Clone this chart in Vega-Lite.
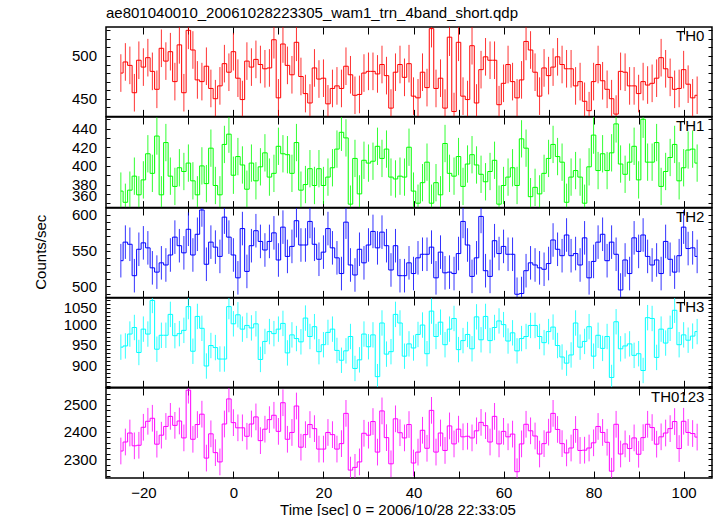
{
"$schema":"https://vega.github.io/schema/vega-lite/v6.json",
"autosize":"none",
"padding":{"left":106,"top":27,"right":611,"bottom":489},
"title":{"text":"ae801040010_20061028223305_wam1_trn_4band_short.qdp","anchor":"start","frame":"group","baseline":"bottom","offset":-10},
"data":{"values":[
{"p":"TH0","t":-25,"c":480,"e":22},{"p":"TH0","t":-24,"c":493,"e":22},{"p":"TH0","t":-23,"c":489,"e":22},{"p":"TH0","t":-22,"c":457,"e":22},{"p":"TH0","t":-21,"c":495,"e":22},{"p":"TH0","t":-20,"c":487,"e":22},{"p":"TH0","t":-19,"c":498,"e":22},{"p":"TH0","t":-18,"c":482,"e":22},{"p":"TH0","t":-17,"c":461,"e":22},{"p":"TH0","t":-16,"c":509,"e":22},{"p":"TH0","t":-15,"c":494,"e":22},{"p":"TH0","t":-14,"c":505,"e":22},{"p":"TH0","t":-13,"c":470,"e":22},{"p":"TH0","t":-12,"c":513,"e":22},{"p":"TH0","t":-11,"c":457,"e":22},{"p":"TH0","t":-10,"c":530,"e":22},{"p":"TH0","t":-9,"c":507,"e":22},{"p":"TH0","t":-8,"c":472,"e":22},{"p":"TH0","t":-7,"c":470,"e":22},{"p":"TH0","t":-6,"c":488,"e":22},{"p":"TH0","t":-5,"c":462,"e":22},{"p":"TH0","t":-4,"c":450,"e":22},{"p":"TH0","t":-3,"c":465,"e":22},{"p":"TH0","t":-2,"c":491,"e":22},{"p":"TH0","t":-1,"c":481,"e":22},{"p":"TH0","t":0,"c":505,"e":22},{"p":"TH0","t":1,"c":474,"e":22},{"p":"TH0","t":2,"c":449,"e":22},{"p":"TH0","t":3,"c":494,"e":22},{"p":"TH0","t":4,"c":487,"e":22},{"p":"TH0","t":5,"c":496,"e":22},{"p":"TH0","t":6,"c":490,"e":22},{"p":"TH0","t":7,"c":485,"e":22},{"p":"TH0","t":8,"c":486,"e":22},{"p":"TH0","t":9,"c":519,"e":22},{"p":"TH0","t":10,"c":451,"e":22},{"p":"TH0","t":11,"c":514,"e":22},{"p":"TH0","t":12,"c":489,"e":22},{"p":"TH0","t":13,"c":478,"e":22},{"p":"TH0","t":14,"c":516,"e":22},{"p":"TH0","t":15,"c":476,"e":22},{"p":"TH0","t":16,"c":456,"e":22},{"p":"TH0","t":17,"c":445,"e":22},{"p":"TH0","t":18,"c":486,"e":22},{"p":"TH0","t":19,"c":473,"e":22},{"p":"TH0","t":20,"c":474,"e":22},{"p":"TH0","t":21,"c":444,"e":22},{"p":"TH0","t":22,"c":462,"e":22},{"p":"TH0","t":23,"c":465,"e":22},{"p":"TH0","t":24,"c":462,"e":22},{"p":"TH0","t":25,"c":488,"e":22},{"p":"TH0","t":26,"c":478,"e":22},{"p":"TH0","t":27,"c":454,"e":22},{"p":"TH0","t":28,"c":455,"e":22},{"p":"TH0","t":29,"c":480,"e":22},{"p":"TH0","t":30,"c":482,"e":22},{"p":"TH0","t":31,"c":482,"e":22},{"p":"TH0","t":32,"c":479,"e":22},{"p":"TH0","t":33,"c":490,"e":22},{"p":"TH0","t":34,"c":477,"e":22},{"p":"TH0","t":35,"c":439,"e":22},{"p":"TH0","t":36,"c":481,"e":22},{"p":"TH0","t":37,"c":490,"e":22},{"p":"TH0","t":38,"c":475,"e":22},{"p":"TH0","t":39,"c":491,"e":22},{"p":"TH0","t":40,"c":453,"e":22},{"p":"TH0","t":41,"c":451,"e":22},{"p":"TH0","t":42,"c":481,"e":22},{"p":"TH0","t":43,"c":463,"e":22},{"p":"TH0","t":44,"c":532,"e":22},{"p":"TH0","t":45,"c":462,"e":22},{"p":"TH0","t":46,"c":474,"e":22},{"p":"TH0","t":47,"c":439,"e":22},{"p":"TH0","t":48,"c":522,"e":22},{"p":"TH0","t":49,"c":435,"e":22},{"p":"TH0","t":50,"c":516,"e":22},{"p":"TH0","t":51,"c":453,"e":22},{"p":"TH0","t":52,"c":449,"e":22},{"p":"TH0","t":53,"c":512,"e":22},{"p":"TH0","t":54,"c":445,"e":22},{"p":"TH0","t":55,"c":484,"e":22},{"p":"TH0","t":56,"c":499,"e":22},{"p":"TH0","t":57,"c":495,"e":22},{"p":"TH0","t":58,"c":495,"e":22},{"p":"TH0","t":59,"c":443,"e":22},{"p":"TH0","t":60,"c":468,"e":22},{"p":"TH0","t":61,"c":490,"e":22},{"p":"TH0","t":62,"c":470,"e":22},{"p":"TH0","t":63,"c":451,"e":22},{"p":"TH0","t":64,"c":472,"e":22},{"p":"TH0","t":65,"c":517,"e":22},{"p":"TH0","t":66,"c":507,"e":22},{"p":"TH0","t":67,"c":481,"e":22},{"p":"TH0","t":68,"c":453,"e":22},{"p":"TH0","t":69,"c":486,"e":22},{"p":"TH0","t":70,"c":477,"e":22},{"p":"TH0","t":71,"c":487,"e":22},{"p":"TH0","t":72,"c":499,"e":22},{"p":"TH0","t":73,"c":490,"e":22},{"p":"TH0","t":74,"c":485,"e":22},{"p":"TH0","t":75,"c":485,"e":22},{"p":"TH0","t":76,"c":465,"e":22},{"p":"TH0","t":77,"c":470,"e":22},{"p":"TH0","t":78,"c":447,"e":22},{"p":"TH0","t":79,"c":436,"e":22},{"p":"TH0","t":80,"c":470,"e":22},{"p":"TH0","t":81,"c":490,"e":22},{"p":"TH0","t":82,"c":471,"e":22},{"p":"TH0","t":83,"c":461,"e":22},{"p":"TH0","t":84,"c":450,"e":22},{"p":"TH0","t":85,"c":432,"e":22},{"p":"TH0","t":86,"c":482,"e":22},{"p":"TH0","t":87,"c":481,"e":22},{"p":"TH0","t":88,"c":465,"e":22},{"p":"TH0","t":89,"c":465,"e":22},{"p":"TH0","t":90,"c":456,"e":22},{"p":"TH0","t":91,"c":470,"e":22},{"p":"TH0","t":92,"c":466,"e":22},{"p":"TH0","t":93,"c":468,"e":22},{"p":"TH0","t":94,"c":474,"e":22},{"p":"TH0","t":95,"c":498,"e":22},{"p":"TH0","t":96,"c":485,"e":22},{"p":"TH0","t":97,"c":475,"e":22},{"p":"TH0","t":98,"c":461,"e":22},{"p":"TH0","t":99,"c":462,"e":22},{"p":"TH0","t":100,"c":484,"e":22},{"p":"TH0","t":101,"c":467,"e":22},{"p":"TH0","t":102,"c":451,"e":22},{"p":"TH0","t":103,"c":454,"e":22},
{"p":"TH1","t":-25,"c":373,"e":20},{"p":"TH1","t":-24,"c":361,"e":20},{"p":"TH1","t":-23,"c":374,"e":20},{"p":"TH1","t":-22,"c":389,"e":20},{"p":"TH1","t":-21,"c":369,"e":20},{"p":"TH1","t":-20,"c":385,"e":20},{"p":"TH1","t":-19,"c":413,"e":20},{"p":"TH1","t":-18,"c":392,"e":20},{"p":"TH1","t":-17,"c":432,"e":20},{"p":"TH1","t":-16,"c":369,"e":20},{"p":"TH1","t":-15,"c":425,"e":20},{"p":"TH1","t":-14,"c":389,"e":20},{"p":"TH1","t":-13,"c":378,"e":20},{"p":"TH1","t":-12,"c":398,"e":20},{"p":"TH1","t":-11,"c":394,"e":20},{"p":"TH1","t":-10,"c":403,"e":20},{"p":"TH1","t":-9,"c":384,"e":20},{"p":"TH1","t":-8,"c":369,"e":20},{"p":"TH1","t":-7,"c":400,"e":20},{"p":"TH1","t":-6,"c":381,"e":20},{"p":"TH1","t":-5,"c":419,"e":20},{"p":"TH1","t":-4,"c":379,"e":20},{"p":"TH1","t":-3,"c":369,"e":20},{"p":"TH1","t":-2,"c":423,"e":20},{"p":"TH1","t":-1,"c":434,"e":20},{"p":"TH1","t":0,"c":390,"e":20},{"p":"TH1","t":1,"c":410,"e":20},{"p":"TH1","t":2,"c":401,"e":20},{"p":"TH1","t":3,"c":375,"e":20},{"p":"TH1","t":4,"c":403,"e":20},{"p":"TH1","t":5,"c":384,"e":20},{"p":"TH1","t":6,"c":399,"e":20},{"p":"TH1","t":7,"c":414,"e":20},{"p":"TH1","t":8,"c":388,"e":20},{"p":"TH1","t":9,"c":392,"e":20},{"p":"TH1","t":10,"c":421,"e":20},{"p":"TH1","t":11,"c":413,"e":20},{"p":"TH1","t":12,"c":412,"e":20},{"p":"TH1","t":13,"c":392,"e":20},{"p":"TH1","t":14,"c":425,"e":20},{"p":"TH1","t":15,"c":374,"e":20},{"p":"TH1","t":16,"c":380,"e":20},{"p":"TH1","t":17,"c":397,"e":20},{"p":"TH1","t":18,"c":379,"e":20},{"p":"TH1","t":19,"c":397,"e":20},{"p":"TH1","t":20,"c":379,"e":20},{"p":"TH1","t":21,"c":388,"e":20},{"p":"TH1","t":22,"c":398,"e":20},{"p":"TH1","t":23,"c":418,"e":20},{"p":"TH1","t":24,"c":436,"e":20},{"p":"TH1","t":25,"c":430,"e":20},{"p":"TH1","t":26,"c":359,"e":20},{"p":"TH1","t":27,"c":408,"e":20},{"p":"TH1","t":28,"c":370,"e":20},{"p":"TH1","t":29,"c":406,"e":20},{"p":"TH1","t":30,"c":403,"e":20},{"p":"TH1","t":31,"c":405,"e":20},{"p":"TH1","t":32,"c":421,"e":20},{"p":"TH1","t":33,"c":408,"e":20},{"p":"TH1","t":34,"c":418,"e":20},{"p":"TH1","t":35,"c":388,"e":20},{"p":"TH1","t":36,"c":386,"e":20},{"p":"TH1","t":37,"c":389,"e":20},{"p":"TH1","t":38,"c":388,"e":20},{"p":"TH1","t":39,"c":420,"e":20},{"p":"TH1","t":40,"c":373,"e":20},{"p":"TH1","t":41,"c":360,"e":20},{"p":"TH1","t":42,"c":382,"e":20},{"p":"TH1","t":43,"c":404,"e":20},{"p":"TH1","t":44,"c":360,"e":20},{"p":"TH1","t":45,"c":382,"e":20},{"p":"TH1","t":46,"c":369,"e":20},{"p":"TH1","t":47,"c":424,"e":20},{"p":"TH1","t":48,"c":392,"e":20},{"p":"TH1","t":49,"c":389,"e":20},{"p":"TH1","t":50,"c":410,"e":20},{"p":"TH1","t":51,"c":378,"e":20},{"p":"TH1","t":52,"c":402,"e":20},{"p":"TH1","t":53,"c":412,"e":20},{"p":"TH1","t":54,"c":401,"e":20},{"p":"TH1","t":55,"c":391,"e":20},{"p":"TH1","t":56,"c":383,"e":20},{"p":"TH1","t":57,"c":394,"e":20},{"p":"TH1","t":58,"c":406,"e":20},{"p":"TH1","t":59,"c":359,"e":20},{"p":"TH1","t":60,"c":379,"e":20},{"p":"TH1","t":61,"c":388,"e":20},{"p":"TH1","t":62,"c":398,"e":20},{"p":"TH1","t":63,"c":379,"e":20},{"p":"TH1","t":64,"c":429,"e":20},{"p":"TH1","t":65,"c":419,"e":20},{"p":"TH1","t":66,"c":367,"e":20},{"p":"TH1","t":67,"c":377,"e":20},{"p":"TH1","t":68,"c":370,"e":20},{"p":"TH1","t":69,"c":392,"e":20},{"p":"TH1","t":70,"c":408,"e":20},{"p":"TH1","t":71,"c":423,"e":20},{"p":"TH1","t":72,"c":410,"e":20},{"p":"TH1","t":73,"c":404,"e":20},{"p":"TH1","t":74,"c":361,"e":20},{"p":"TH1","t":75,"c":388,"e":20},{"p":"TH1","t":76,"c":395,"e":20},{"p":"TH1","t":77,"c":388,"e":20},{"p":"TH1","t":78,"c":360,"e":20},{"p":"TH1","t":79,"c":399,"e":20},{"p":"TH1","t":80,"c":433,"e":20},{"p":"TH1","t":81,"c":395,"e":20},{"p":"TH1","t":82,"c":413,"e":20},{"p":"TH1","t":83,"c":395,"e":20},{"p":"TH1","t":84,"c":414,"e":20},{"p":"TH1","t":85,"c":445,"e":20},{"p":"TH1","t":86,"c":402,"e":20},{"p":"TH1","t":87,"c":391,"e":20},{"p":"TH1","t":88,"c":404,"e":20},{"p":"TH1","t":89,"c":421,"e":20},{"p":"TH1","t":90,"c":385,"e":20},{"p":"TH1","t":91,"c":450,"e":20},{"p":"TH1","t":92,"c":404,"e":20},{"p":"TH1","t":93,"c":404,"e":20},{"p":"TH1","t":94,"c":425,"e":20},{"p":"TH1","t":95,"c":378,"e":20},{"p":"TH1","t":96,"c":394,"e":20},{"p":"TH1","t":97,"c":409,"e":20},{"p":"TH1","t":98,"c":423,"e":20},{"p":"TH1","t":99,"c":384,"e":20},{"p":"TH1","t":100,"c":398,"e":20},{"p":"TH1","t":101,"c":417,"e":20},{"p":"TH1","t":102,"c":418,"e":20},{"p":"TH1","t":103,"c":403,"e":20},
{"p":"TH2","t":-25,"c":536,"e":23.5},{"p":"TH2","t":-24,"c":562,"e":23.5},{"p":"TH2","t":-23,"c":559,"e":23.5},{"p":"TH2","t":-22,"c":515,"e":23.5},{"p":"TH2","t":-21,"c":552,"e":23.5},{"p":"TH2","t":-20,"c":561,"e":23.5},{"p":"TH2","t":-19,"c":554,"e":23.5},{"p":"TH2","t":-18,"c":526,"e":23.5},{"p":"TH2","t":-17,"c":520,"e":23.5},{"p":"TH2","t":-16,"c":533,"e":23.5},{"p":"TH2","t":-15,"c":530,"e":23.5},{"p":"TH2","t":-14,"c":544,"e":23.5},{"p":"TH2","t":-13,"c":569,"e":23.5},{"p":"TH2","t":-12,"c":557,"e":23.5},{"p":"TH2","t":-11,"c":547,"e":23.5},{"p":"TH2","t":-10,"c":580,"e":23.5},{"p":"TH2","t":-9,"c":544,"e":23.5},{"p":"TH2","t":-8,"c":573,"e":23.5},{"p":"TH2","t":-7,"c":607,"e":23.5},{"p":"TH2","t":-6,"c":531,"e":23.5},{"p":"TH2","t":-5,"c":562,"e":23.5},{"p":"TH2","t":-4,"c":555,"e":23.5},{"p":"TH2","t":-3,"c":542,"e":23.5},{"p":"TH2","t":-2,"c":597,"e":23.5},{"p":"TH2","t":-1,"c":569,"e":23.5},{"p":"TH2","t":0,"c":544,"e":23.5},{"p":"TH2","t":1,"c":512,"e":23.5},{"p":"TH2","t":2,"c":581,"e":23.5},{"p":"TH2","t":3,"c":521,"e":23.5},{"p":"TH2","t":4,"c":557,"e":23.5},{"p":"TH2","t":5,"c":578,"e":23.5},{"p":"TH2","t":6,"c":563,"e":23.5},{"p":"TH2","t":7,"c":551,"e":23.5},{"p":"TH2","t":8,"c":563,"e":23.5},{"p":"TH2","t":9,"c":575,"e":23.5},{"p":"TH2","t":10,"c":537,"e":23.5},{"p":"TH2","t":11,"c":583,"e":23.5},{"p":"TH2","t":12,"c":542,"e":23.5},{"p":"TH2","t":13,"c":556,"e":23.5},{"p":"TH2","t":14,"c":592,"e":23.5},{"p":"TH2","t":15,"c":558,"e":23.5},{"p":"TH2","t":16,"c":558,"e":23.5},{"p":"TH2","t":17,"c":591,"e":23.5},{"p":"TH2","t":18,"c":559,"e":23.5},{"p":"TH2","t":19,"c":538,"e":23.5},{"p":"TH2","t":20,"c":548,"e":23.5},{"p":"TH2","t":21,"c":581,"e":23.5},{"p":"TH2","t":22,"c":554,"e":23.5},{"p":"TH2","t":23,"c":540,"e":23.5},{"p":"TH2","t":24,"c":518,"e":23.5},{"p":"TH2","t":25,"c":590,"e":23.5},{"p":"TH2","t":26,"c":530,"e":23.5},{"p":"TH2","t":27,"c":516,"e":23.5},{"p":"TH2","t":28,"c":552,"e":23.5},{"p":"TH2","t":29,"c":533,"e":23.5},{"p":"TH2","t":30,"c":558,"e":23.5},{"p":"TH2","t":31,"c":577,"e":23.5},{"p":"TH2","t":32,"c":554,"e":23.5},{"p":"TH2","t":33,"c":576,"e":23.5},{"p":"TH2","t":34,"c":557,"e":23.5},{"p":"TH2","t":35,"c":523,"e":23.5},{"p":"TH2","t":36,"c":557,"e":23.5},{"p":"TH2","t":37,"c":515,"e":23.5},{"p":"TH2","t":38,"c":515,"e":23.5},{"p":"TH2","t":39,"c":533,"e":23.5},{"p":"TH2","t":40,"c":518,"e":23.5},{"p":"TH2","t":41,"c":540,"e":23.5},{"p":"TH2","t":42,"c":545,"e":23.5},{"p":"TH2","t":43,"c":545,"e":23.5},{"p":"TH2","t":44,"c":555,"e":23.5},{"p":"TH2","t":45,"c":512,"e":23.5},{"p":"TH2","t":46,"c":548,"e":23.5},{"p":"TH2","t":47,"c":519,"e":23.5},{"p":"TH2","t":48,"c":520,"e":23.5},{"p":"TH2","t":49,"c":518,"e":23.5},{"p":"TH2","t":50,"c":546,"e":23.5},{"p":"TH2","t":51,"c":591,"e":23.5},{"p":"TH2","t":52,"c":558,"e":23.5},{"p":"TH2","t":53,"c":514,"e":23.5},{"p":"TH2","t":54,"c":540,"e":23.5},{"p":"TH2","t":55,"c":598,"e":23.5},{"p":"TH2","t":56,"c":522,"e":23.5},{"p":"TH2","t":57,"c":514,"e":23.5},{"p":"TH2","t":58,"c":564,"e":23.5},{"p":"TH2","t":59,"c":546,"e":23.5},{"p":"TH2","t":60,"c":556,"e":23.5},{"p":"TH2","t":61,"c":545,"e":23.5},{"p":"TH2","t":62,"c":545,"e":23.5},{"p":"TH2","t":63,"c":489,"e":23.5},{"p":"TH2","t":64,"c":490,"e":23.5},{"p":"TH2","t":65,"c":522,"e":23.5},{"p":"TH2","t":66,"c":533,"e":23.5},{"p":"TH2","t":67,"c":530,"e":23.5},{"p":"TH2","t":68,"c":526,"e":23.5},{"p":"TH2","t":69,"c":524,"e":23.5},{"p":"TH2","t":70,"c":532,"e":23.5},{"p":"TH2","t":71,"c":565,"e":23.5},{"p":"TH2","t":72,"c":552,"e":23.5},{"p":"TH2","t":73,"c":543,"e":23.5},{"p":"TH2","t":74,"c":572,"e":23.5},{"p":"TH2","t":75,"c":543,"e":23.5},{"p":"TH2","t":76,"c":546,"e":23.5},{"p":"TH2","t":77,"c":530,"e":23.5},{"p":"TH2","t":78,"c":568,"e":23.5},{"p":"TH2","t":79,"c":512,"e":23.5},{"p":"TH2","t":80,"c":535,"e":23.5},{"p":"TH2","t":81,"c":562,"e":23.5},{"p":"TH2","t":82,"c":573,"e":23.5},{"p":"TH2","t":83,"c":536,"e":23.5},{"p":"TH2","t":84,"c":562,"e":23.5},{"p":"TH2","t":85,"c":545,"e":23.5},{"p":"TH2","t":86,"c":495,"e":23.5},{"p":"TH2","t":87,"c":537,"e":23.5},{"p":"TH2","t":88,"c":518,"e":23.5},{"p":"TH2","t":89,"c":568,"e":23.5},{"p":"TH2","t":90,"c":549,"e":23.5},{"p":"TH2","t":91,"c":572,"e":23.5},{"p":"TH2","t":92,"c":542,"e":23.5},{"p":"TH2","t":93,"c":530,"e":23.5},{"p":"TH2","t":94,"c":537,"e":23.5},{"p":"TH2","t":95,"c":518,"e":23.5},{"p":"TH2","t":96,"c":563,"e":23.5},{"p":"TH2","t":97,"c":538,"e":23.5},{"p":"TH2","t":98,"c":520,"e":23.5},{"p":"TH2","t":99,"c":543,"e":23.5},{"p":"TH2","t":100,"c":583,"e":23.5},{"p":"TH2","t":101,"c":553,"e":23.5},{"p":"TH2","t":102,"c":554,"e":23.5},{"p":"TH2","t":103,"c":542,"e":23.5},
{"p":"TH3","t":-25,"c":944,"e":31},{"p":"TH3","t":-24,"c":947,"e":31},{"p":"TH3","t":-23,"c":976,"e":31},{"p":"TH3","t":-22,"c":992,"e":31},{"p":"TH3","t":-21,"c":931,"e":31},{"p":"TH3","t":-20,"c":988,"e":31},{"p":"TH3","t":-19,"c":976,"e":31},{"p":"TH3","t":-18,"c":1058,"e":31},{"p":"TH3","t":-17,"c":939,"e":31},{"p":"TH3","t":-16,"c":973,"e":31},{"p":"TH3","t":-15,"c":973,"e":31},{"p":"TH3","t":-14,"c":1024,"e":31},{"p":"TH3","t":-13,"c":972,"e":31},{"p":"TH3","t":-12,"c":977,"e":31},{"p":"TH3","t":-11,"c":985,"e":31},{"p":"TH3","t":-10,"c":1043,"e":31},{"p":"TH3","t":-9,"c":934,"e":31},{"p":"TH3","t":-8,"c":1019,"e":31},{"p":"TH3","t":-7,"c":990,"e":31},{"p":"TH3","t":-6,"c":898,"e":31},{"p":"TH3","t":-5,"c":948,"e":31},{"p":"TH3","t":-4,"c":943,"e":31},{"p":"TH3","t":-3,"c":915,"e":31},{"p":"TH3","t":-2,"c":915,"e":31},{"p":"TH3","t":-1,"c":1043,"e":31},{"p":"TH3","t":0,"c":1001,"e":31},{"p":"TH3","t":1,"c":1023,"e":31},{"p":"TH3","t":2,"c":988,"e":31},{"p":"TH3","t":3,"c":997,"e":31},{"p":"TH3","t":4,"c":991,"e":31},{"p":"TH3","t":5,"c":1001,"e":31},{"p":"TH3","t":6,"c":914,"e":31},{"p":"TH3","t":7,"c":958,"e":31},{"p":"TH3","t":8,"c":982,"e":31},{"p":"TH3","t":9,"c":977,"e":31},{"p":"TH3","t":10,"c":988,"e":31},{"p":"TH3","t":11,"c":1002,"e":31},{"p":"TH3","t":12,"c":930,"e":31},{"p":"TH3","t":13,"c":974,"e":31},{"p":"TH3","t":14,"c":965,"e":31},{"p":"TH3","t":15,"c":957,"e":31},{"p":"TH3","t":16,"c":1015,"e":31},{"p":"TH3","t":17,"c":970,"e":31},{"p":"TH3","t":18,"c":994,"e":31},{"p":"TH3","t":19,"c":933,"e":31},{"p":"TH3","t":20,"c":950,"e":31},{"p":"TH3","t":21,"c":980,"e":31},{"p":"TH3","t":22,"c":988,"e":31},{"p":"TH3","t":23,"c":936,"e":31},{"p":"TH3","t":24,"c":912,"e":31},{"p":"TH3","t":25,"c":935,"e":31},{"p":"TH3","t":26,"c":970,"e":31},{"p":"TH3","t":27,"c":892,"e":31},{"p":"TH3","t":28,"c":913,"e":31},{"p":"TH3","t":29,"c":976,"e":31},{"p":"TH3","t":30,"c":945,"e":31},{"p":"TH3","t":31,"c":974,"e":31},{"p":"TH3","t":32,"c":872,"e":31},{"p":"TH3","t":33,"c":1003,"e":31},{"p":"TH3","t":34,"c":927,"e":31},{"p":"TH3","t":35,"c":933,"e":31},{"p":"TH3","t":36,"c":1024,"e":31},{"p":"TH3","t":37,"c":1003,"e":31},{"p":"TH3","t":38,"c":922,"e":31},{"p":"TH3","t":39,"c":952,"e":31},{"p":"TH3","t":40,"c":942,"e":31},{"p":"TH3","t":41,"c":975,"e":31},{"p":"TH3","t":42,"c":998,"e":31},{"p":"TH3","t":43,"c":928,"e":31},{"p":"TH3","t":44,"c":1032,"e":31},{"p":"TH3","t":45,"c":970,"e":31},{"p":"TH3","t":46,"c":1005,"e":31},{"p":"TH3","t":47,"c":950,"e":31},{"p":"TH3","t":48,"c":988,"e":31},{"p":"TH3","t":49,"c":1014,"e":31},{"p":"TH3","t":50,"c":938,"e":31},{"p":"TH3","t":51,"c":960,"e":31},{"p":"TH3","t":52,"c":975,"e":31},{"p":"TH3","t":53,"c":940,"e":31},{"p":"TH3","t":54,"c":1018,"e":31},{"p":"TH3","t":55,"c":962,"e":31},{"p":"TH3","t":56,"c":1019,"e":31},{"p":"TH3","t":57,"c":960,"e":31},{"p":"TH3","t":58,"c":992,"e":31},{"p":"TH3","t":59,"c":1008,"e":31},{"p":"TH3","t":60,"c":999,"e":31},{"p":"TH3","t":61,"c":959,"e":31},{"p":"TH3","t":62,"c":979,"e":31},{"p":"TH3","t":63,"c":935,"e":31},{"p":"TH3","t":64,"c":965,"e":31},{"p":"TH3","t":65,"c":970,"e":31},{"p":"TH3","t":66,"c":997,"e":31},{"p":"TH3","t":67,"c":997,"e":31},{"p":"TH3","t":68,"c":970,"e":31},{"p":"TH3","t":69,"c":955,"e":31},{"p":"TH3","t":70,"c":982,"e":31},{"p":"TH3","t":71,"c":993,"e":31},{"p":"TH3","t":72,"c":948,"e":31},{"p":"TH3","t":73,"c":920,"e":31},{"p":"TH3","t":74,"c":905,"e":31},{"p":"TH3","t":75,"c":925,"e":31},{"p":"TH3","t":76,"c":1003,"e":31},{"p":"TH3","t":77,"c":944,"e":31},{"p":"TH3","t":78,"c":958,"e":31},{"p":"TH3","t":79,"c":994,"e":31},{"p":"TH3","t":80,"c":922,"e":31},{"p":"TH3","t":81,"c":973,"e":31},{"p":"TH3","t":82,"c":941,"e":31},{"p":"TH3","t":83,"c":970,"e":31},{"p":"TH3","t":84,"c":870,"e":31},{"p":"TH3","t":85,"c":1006,"e":31},{"p":"TH3","t":86,"c":940,"e":31},{"p":"TH3","t":87,"c":947,"e":31},{"p":"TH3","t":88,"c":952,"e":31},{"p":"TH3","t":89,"c":924,"e":31},{"p":"TH3","t":90,"c":928,"e":31},{"p":"TH3","t":91,"c":887,"e":31},{"p":"TH3","t":92,"c":1016,"e":31},{"p":"TH3","t":93,"c":1014,"e":31},{"p":"TH3","t":94,"c":919,"e":31},{"p":"TH3","t":95,"c":988,"e":31},{"p":"TH3","t":96,"c":954,"e":31},{"p":"TH3","t":97,"c":990,"e":31},{"p":"TH3","t":98,"c":1034,"e":31},{"p":"TH3","t":99,"c":950,"e":31},{"p":"TH3","t":100,"c":974,"e":31},{"p":"TH3","t":101,"c":961,"e":31},{"p":"TH3","t":102,"c":971,"e":31},{"p":"TH3","t":103,"c":982,"e":31},
{"p":"TH0123","t":-25,"c":2330,"e":49},{"p":"TH0123","t":-24,"c":2363,"e":49},{"p":"TH0123","t":-23,"c":2396,"e":49},{"p":"TH0123","t":-22,"c":2349,"e":49},{"p":"TH0123","t":-21,"c":2351,"e":49},{"p":"TH0123","t":-20,"c":2417,"e":49},{"p":"TH0123","t":-19,"c":2439,"e":49},{"p":"TH0123","t":-18,"c":2450,"e":49},{"p":"TH0123","t":-17,"c":2355,"e":49},{"p":"TH0123","t":-16,"c":2388,"e":49},{"p":"TH0123","t":-15,"c":2420,"e":49},{"p":"TH0123","t":-14,"c":2457,"e":49},{"p":"TH0123","t":-13,"c":2424,"e":49},{"p":"TH0123","t":-12,"c":2440,"e":49},{"p":"TH0123","t":-11,"c":2378,"e":49},{"p":"TH0123","t":-10,"c":2553,"e":49},{"p":"TH0123","t":-9,"c":2373,"e":49},{"p":"TH0123","t":-8,"c":2427,"e":49},{"p":"TH0123","t":-7,"c":2465,"e":49},{"p":"TH0123","t":-6,"c":2304,"e":49},{"p":"TH0123","t":-5,"c":2393,"e":49},{"p":"TH0123","t":-4,"c":2324,"e":49},{"p":"TH0123","t":-3,"c":2290,"e":49},{"p":"TH0123","t":-2,"c":2429,"e":49},{"p":"TH0123","t":-1,"c":2521,"e":49},{"p":"TH0123","t":0,"c":2434,"e":49},{"p":"TH0123","t":1,"c":2415,"e":49},{"p":"TH0123","t":2,"c":2415,"e":49},{"p":"TH0123","t":3,"c":2384,"e":49},{"p":"TH0123","t":4,"c":2429,"e":49},{"p":"TH0123","t":5,"c":2455,"e":49},{"p":"TH0123","t":6,"c":2368,"e":49},{"p":"TH0123","t":7,"c":2410,"e":49},{"p":"TH0123","t":8,"c":2445,"e":49},{"p":"TH0123","t":9,"c":2461,"e":49},{"p":"TH0123","t":10,"c":2402,"e":49},{"p":"TH0123","t":11,"c":2507,"e":49},{"p":"TH0123","t":12,"c":2373,"e":49},{"p":"TH0123","t":13,"c":2398,"e":49},{"p":"TH0123","t":14,"c":2495,"e":49},{"p":"TH0123","t":15,"c":2344,"e":49},{"p":"TH0123","t":16,"c":2390,"e":49},{"p":"TH0123","t":17,"c":2427,"e":49},{"p":"TH0123","t":18,"c":2412,"e":49},{"p":"TH0123","t":19,"c":2337,"e":49},{"p":"TH0123","t":20,"c":2337,"e":49},{"p":"TH0123","t":21,"c":2398,"e":49},{"p":"TH0123","t":22,"c":2390,"e":49},{"p":"TH0123","t":23,"c":2337,"e":49},{"p":"TH0123","t":24,"c":2357,"e":49},{"p":"TH0123","t":25,"c":2468,"e":49},{"p":"TH0123","t":26,"c":2260,"e":49},{"p":"TH0123","t":27,"c":2270,"e":49},{"p":"TH0123","t":28,"c":2290,"e":49},{"p":"TH0123","t":29,"c":2395,"e":49},{"p":"TH0123","t":30,"c":2388,"e":49},{"p":"TH0123","t":31,"c":2438,"e":49},{"p":"TH0123","t":32,"c":2326,"e":49},{"p":"TH0123","t":33,"c":2477,"e":49},{"p":"TH0123","t":34,"c":2379,"e":49},{"p":"TH0123","t":35,"c":2283,"e":49},{"p":"TH0123","t":36,"c":2448,"e":49},{"p":"TH0123","t":37,"c":2397,"e":49},{"p":"TH0123","t":38,"c":2378,"e":49},{"p":"TH0123","t":39,"c":2427,"e":49},{"p":"TH0123","t":40,"c":2286,"e":49},{"p":"TH0123","t":41,"c":2326,"e":49},{"p":"TH0123","t":42,"c":2406,"e":49},{"p":"TH0123","t":43,"c":2340,"e":49},{"p":"TH0123","t":44,"c":2479,"e":49},{"p":"TH0123","t":45,"c":2326,"e":49},{"p":"TH0123","t":46,"c":2396,"e":49},{"p":"TH0123","t":47,"c":2332,"e":49},{"p":"TH0123","t":48,"c":2422,"e":49},{"p":"TH0123","t":49,"c":2356,"e":49},{"p":"TH0123","t":50,"c":2410,"e":49},{"p":"TH0123","t":51,"c":2382,"e":49},{"p":"TH0123","t":52,"c":2384,"e":49},{"p":"TH0123","t":53,"c":2378,"e":49},{"p":"TH0123","t":54,"c":2404,"e":49},{"p":"TH0123","t":55,"c":2435,"e":49},{"p":"TH0123","t":56,"c":2423,"e":49},{"p":"TH0123","t":57,"c":2363,"e":49},{"p":"TH0123","t":58,"c":2457,"e":49},{"p":"TH0123","t":59,"c":2356,"e":49},{"p":"TH0123","t":60,"c":2402,"e":49},{"p":"TH0123","t":61,"c":2382,"e":49},{"p":"TH0123","t":62,"c":2392,"e":49},{"p":"TH0123","t":63,"c":2254,"e":49},{"p":"TH0123","t":64,"c":2356,"e":49},{"p":"TH0123","t":65,"c":2428,"e":49},{"p":"TH0123","t":66,"c":2404,"e":49},{"p":"TH0123","t":67,"c":2385,"e":49},{"p":"TH0123","t":68,"c":2319,"e":49},{"p":"TH0123","t":69,"c":2357,"e":49},{"p":"TH0123","t":70,"c":2399,"e":49},{"p":"TH0123","t":71,"c":2468,"e":49},{"p":"TH0123","t":72,"c":2409,"e":49},{"p":"TH0123","t":73,"c":2357,"e":49},{"p":"TH0123","t":74,"c":2323,"e":49},{"p":"TH0123","t":75,"c":2341,"e":49},{"p":"TH0123","t":76,"c":2409,"e":49},{"p":"TH0123","t":77,"c":2332,"e":49},{"p":"TH0123","t":78,"c":2333,"e":49},{"p":"TH0123","t":79,"c":2341,"e":49},{"p":"TH0123","t":80,"c":2360,"e":49},{"p":"TH0123","t":81,"c":2420,"e":49},{"p":"TH0123","t":82,"c":2398,"e":49},{"p":"TH0123","t":83,"c":2362,"e":49},{"p":"TH0123","t":84,"c":2256,"e":49},{"p":"TH0123","t":85,"c":2428,"e":49},{"p":"TH0123","t":86,"c":2319,"e":49},{"p":"TH0123","t":87,"c":2356,"e":49},{"p":"TH0123","t":88,"c":2339,"e":49},{"p":"TH0123","t":89,"c":2378,"e":49},{"p":"TH0123","t":90,"c":2318,"e":49},{"p":"TH0123","t":91,"c":2379,"e":49},{"p":"TH0123","t":92,"c":2428,"e":49},{"p":"TH0123","t":93,"c":2416,"e":49},{"p":"TH0123","t":94,"c":2355,"e":49},{"p":"TH0123","t":95,"c":2382,"e":49},{"p":"TH0123","t":96,"c":2396,"e":49},{"p":"TH0123","t":97,"c":2412,"e":49},{"p":"TH0123","t":98,"c":2438,"e":49},{"p":"TH0123","t":99,"c":2339,"e":49},{"p":"TH0123","t":100,"c":2439,"e":49},{"p":"TH0123","t":101,"c":2398,"e":49},{"p":"TH0123","t":102,"c":2394,"e":49},{"p":"TH0123","t":103,"c":2381,"e":49}
]},
"spacing":0,
"bounds":"flush",
"vconcat":[
{"height":89.4,"width":606,"transform":[{"filter":"datum.p === 'TH0'"}],
 "layer":[
  {"mark":{"type":"line","interpolate":"step","color":"#ff0000","strokeWidth":1,"clip":true},
   "encoding":{
    "x":{"field":"t","type":"quantitative","scale":{"domain":[-28.3,106.3],"nice":false,"zero":false},"axis":{"orient":"bottom","values":[-20,-10,0,10,20,30,40,50,60,70,80,90,100],"tickSize":-7,"labels":false,"title":null}},
    "y":{"field":"c","type":"quantitative","scale":{"domain":[429.3,533.9],"nice":false,"zero":false},"axis":{"orient":"left","values":[430,440,450,460,470,480,490,500,510,520,530],"format":"d","tickSize":-4,"labelExpr":"datum.value % 50 === 0 ? datum.label : ''","labelPadding":13.5,"labelFlush":6,"labelOverlap":false,"title":null,"encode":{"ticks":{"update":{"x2":[{"test":"datum.value % 50 === 0","value":8},{"value":4}]}}}}}}},
  {"mark":{"type":"errorbar","color":"#ff0000","opacity":0.8,"clip":true},
   "encoding":{
    "x":{"field":"t","type":"quantitative","axis":{"orient":"top","values":[-20,-10,0,10,20,30,40,50,60,70,80,90,100],"tickSize":-7,"labels":false,"title":null}},
    "y":{"field":"c","type":"quantitative","axis":{"orient":"right","values":[430,440,450,460,470,480,490,500,510,520,530],"tickSize":-4,"labels":false,"title":null,"encode":{"ticks":{"update":{"x2":[{"test":"datum.value % 50 === 0","value":-8},{"value":-4}]}}}}},
    "yError":{"field":"e"}}},
  {"data":{"values":[{"l":"TH0"}]},
   "mark":{"type":"text","align":"right","baseline":"top","fontSize":15,"dy":2,"color":"#000"},
   "encoding":{"x":{"datum":104.6,"type":"quantitative","axis":null},"y":{"datum":533.9,"type":"quantitative","axis":null},"text":{"field":"l"}}}
 ],
 "resolve":{"axis":{"x":"independent","y":"independent"}}},
{"height":90.6,"width":606,"transform":[{"filter":"datum.p === 'TH1'"}],
 "layer":[
  {"mark":{"type":"line","interpolate":"step","color":"#00ff00","strokeWidth":1,"clip":true},
   "encoding":{
    "x":{"field":"t","type":"quantitative","scale":{"domain":[-28.3,106.3],"nice":false,"zero":false},"axis":{"orient":"bottom","values":[-20,-10,0,10,20,30,40,50,60,70,80,90,100],"tickSize":-7,"labels":false,"title":null}},
    "y":{"field":"c","type":"quantitative","scale":{"domain":[355.3,452.4],"nice":false,"zero":false},"axis":{"orient":"left","values":[360,370,380,390,400,410,420,430,440,450],"format":"d","tickSize":-4,"labelExpr":"datum.value % 20 === 0 ? datum.label : ''","labelPadding":13.5,"labelFlush":6,"labelFlushOffset":0,"labelOverlap":false,"title":null,"encode":{"ticks":{"update":{"x2":[{"test":"datum.value % 20 === 0","value":8},{"value":4}]}}}}}}},
  {"mark":{"type":"errorbar","color":"#00ff00","opacity":0.8,"clip":true},
   "encoding":{
    "x":{"field":"t","type":"quantitative","axis":{"orient":"top","values":[-20,-10,0,10,20,30,40,50,60,70,80,90,100],"tickSize":-7,"labels":false,"title":null}},
    "y":{"field":"c","type":"quantitative","axis":{"orient":"right","values":[360,370,380,390,400,410,420,430,440,450],"tickSize":-4,"labels":false,"title":null,"encode":{"ticks":{"update":{"x2":[{"test":"datum.value % 20 === 0","value":-8},{"value":-4}]}}}}},
    "yError":{"field":"e"}}},
  {"data":{"values":[{"l":"TH1"}]},
   "mark":{"type":"text","align":"right","baseline":"top","fontSize":15,"dy":2,"color":"#000"},
   "encoding":{"x":{"datum":104.6,"type":"quantitative","axis":null},"y":{"datum":452.4,"type":"quantitative","axis":null},"text":{"field":"l"}}}
 ],
 "resolve":{"axis":{"x":"independent","y":"independent"}}},
{"height":89.4,"width":606,"transform":[{"filter":"datum.p === 'TH2'"}],
 "layer":[
  {"mark":{"type":"line","interpolate":"step","color":"#0000ff","strokeWidth":1,"clip":true},
   "encoding":{
    "x":{"field":"t","type":"quantitative","scale":{"domain":[-28.3,106.3],"nice":false,"zero":false},"axis":{"orient":"bottom","values":[-20,-10,0,10,20,30,40,50,60,70,80,90,100],"tickSize":-7,"labels":false,"title":null}},
    "y":{"field":"c","type":"quantitative","scale":{"domain":[484.6,609.8],"nice":false,"zero":false},"axis":{"orient":"left","values":[490,500,510,520,530,540,550,560,570,580,590,600],"format":"d","tickSize":-4,"labelExpr":"datum.value % 50 === 0 ? datum.label : ''","labelPadding":13.5,"labelFlush":6,"labelOverlap":false,"title":"Counts/sec","titleX":-66,"titleY":43.7,"titleAngle":270,"titleAlign":"center","titleBaseline":"middle","encode":{"ticks":{"update":{"x2":[{"test":"datum.value % 50 === 0","value":8},{"value":4}]}}}}}}},
  {"mark":{"type":"errorbar","color":"#0000ff","opacity":0.8,"clip":true},
   "encoding":{
    "x":{"field":"t","type":"quantitative","axis":{"orient":"top","values":[-20,-10,0,10,20,30,40,50,60,70,80,90,100],"tickSize":-7,"labels":false,"title":null}},
    "y":{"field":"c","type":"quantitative","axis":{"orient":"right","values":[490,500,510,520,530,540,550,560,570,580,590,600],"tickSize":-4,"labels":false,"title":null,"encode":{"ticks":{"update":{"x2":[{"test":"datum.value % 50 === 0","value":-8},{"value":-4}]}}}}},
    "yError":{"field":"e"}}},
  {"data":{"values":[{"l":"TH2"}]},
   "mark":{"type":"text","align":"right","baseline":"top","fontSize":15,"dy":2,"color":"#000"},
   "encoding":{"x":{"datum":104.6,"type":"quantitative","axis":null},"y":{"datum":609.8,"type":"quantitative","axis":null},"text":{"field":"l"}}}
 ],
 "resolve":{"axis":{"x":"independent","y":"independent"}}},
{"height":89.3,"width":606,"transform":[{"filter":"datum.p === 'TH3'"}],
 "layer":[
  {"mark":{"type":"line","interpolate":"step","color":"#00ffff","strokeWidth":1,"clip":true},
   "encoding":{
    "x":{"field":"t","type":"quantitative","scale":{"domain":[-28.3,106.3],"nice":false,"zero":false},"axis":{"orient":"bottom","values":[-20,-10,0,10,20,30,40,50,60,70,80,90,100],"tickSize":-7,"labels":false,"title":null}},
    "y":{"field":"c","type":"quantitative","scale":{"domain":[846,1064],"nice":false,"zero":false},"axis":{"orient":"left","values":[850,860,870,880,890,900,910,920,930,940,950,960,970,980,990,1000,1010,1020,1030,1040,1050,1060],"format":"d","tickSize":-4,"labelExpr":"datum.value % 50 === 0 && datum.value > 860 ? datum.label : ''","labelPadding":13.5,"labelFlush":6,"labelFlushOffset":3,"labelOverlap":false,"title":null,"encode":{"ticks":{"update":{"x2":[{"test":"datum.value % 50 === 0","value":8},{"value":4}]}}}}}}},
  {"mark":{"type":"errorbar","color":"#00ffff","opacity":0.8,"clip":true},
   "encoding":{
    "x":{"field":"t","type":"quantitative","axis":{"orient":"top","values":[-20,-10,0,10,20,30,40,50,60,70,80,90,100],"tickSize":-7,"labels":false,"title":null}},
    "y":{"field":"c","type":"quantitative","axis":{"orient":"right","values":[850,860,870,880,890,900,910,920,930,940,950,960,970,980,990,1000,1010,1020,1030,1040,1050,1060],"tickSize":-4,"labels":false,"title":null,"encode":{"ticks":{"update":{"x2":[{"test":"datum.value % 50 === 0","value":-8},{"value":-4}]}}}}},
    "yError":{"field":"e"}}},
  {"data":{"values":[{"l":"TH3"}]},
   "mark":{"type":"text","align":"right","baseline":"top","fontSize":15,"dy":2,"color":"#000"},
   "encoding":{"x":{"datum":104.6,"type":"quantitative","axis":null},"y":{"datum":1064,"type":"quantitative","axis":null},"text":{"field":"l"}}}
 ],
 "resolve":{"axis":{"x":"independent","y":"independent"}}},
{"height":90,"width":606,"transform":[{"filter":"datum.p === 'TH0123'"}],
 "layer":[
  {"mark":{"type":"line","interpolate":"step","color":"#ff00ff","strokeWidth":1,"clip":true},
   "encoding":{
    "x":{"field":"t","type":"quantitative","scale":{"domain":[-28.3,106.3],"nice":false,"zero":false},"axis":{"orient":"bottom","values":[-20,-10,0,10,20,30,40,50,60,70,80,90,100],"tickSize":-7,"labelExpr":"datum.value % 20 === 0 ? datum.label : ''","labelPadding":14,"labelOverlap":false,"labelFlush":false,"title":"Time [sec] 0 = 2006/10/28 22:33:05","titleX":291.5,"titleY":24,"titleAlign":"center","titleBaseline":"top"}},
    "y":{"field":"c","type":"quantitative","scale":{"domain":[2231,2561],"nice":false,"zero":false},"axis":{"orient":"left","values":[2240,2260,2280,2300,2320,2340,2360,2380,2400,2420,2440,2460,2480,2500,2520,2540,2560],"format":"d","tickSize":-4,"labelExpr":"datum.value % 100 === 0 ? datum.label : ''","labelPadding":13.5,"labelFlush":6,"labelOverlap":false,"title":null,"encode":{"ticks":{"update":{"x2":[{"test":"datum.value % 100 === 0","value":8},{"value":4}]}}}}}}},
  {"mark":{"type":"errorbar","color":"#ff00ff","opacity":0.8,"clip":true},
   "encoding":{
    "x":{"field":"t","type":"quantitative","axis":{"orient":"top","values":[-20,-10,0,10,20,30,40,50,60,70,80,90,100],"tickSize":-7,"labels":false,"title":null}},
    "y":{"field":"c","type":"quantitative","axis":{"orient":"right","values":[2240,2260,2280,2300,2320,2340,2360,2380,2400,2420,2440,2460,2480,2500,2520,2540,2560],"tickSize":-4,"labels":false,"title":null,"encode":{"ticks":{"update":{"x2":[{"test":"datum.value % 100 === 0","value":-8},{"value":-4}]}}}}},
    "yError":{"field":"e"}}},
  {"data":{"values":[{"l":"TH0123"}]},
   "mark":{"type":"text","align":"right","baseline":"top","fontSize":15,"dy":2,"color":"#000"},
   "encoding":{"x":{"datum":104.6,"type":"quantitative","axis":null},"y":{"datum":2561,"type":"quantitative","axis":null},"text":{"field":"l"}}}
 ],
 "resolve":{"axis":{"x":"independent","y":"independent"}}}
],
"config":{
 "font":"Liberation Sans",
 "view":{"stroke":"#000","strokeWidth":1.5},
 "axis":{"labelFont":"Liberation Sans","labelFontSize":15,"labelColor":"#000","tickColor":"#000","tickWidth":1,"titleFont":"Liberation Sans","titleFontSize":15,"titleFontWeight":"normal","titleColor":"#000","grid":false,"domain":false},
 "title":{"font":"Liberation Sans","fontSize":15,"fontWeight":"normal","color":"#000"}
}
}
